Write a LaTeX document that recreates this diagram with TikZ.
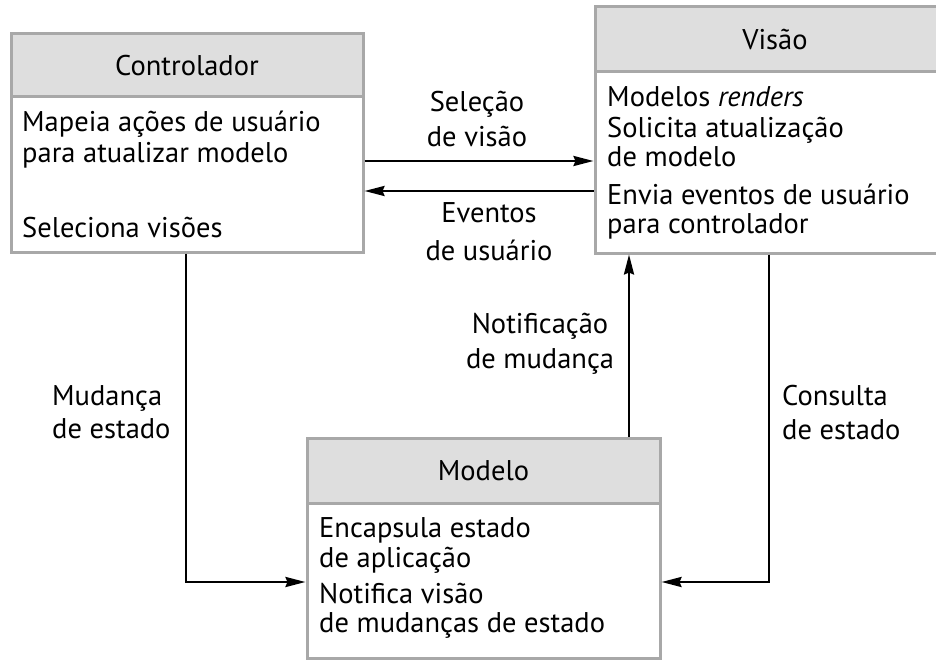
\documentclass[tikz,border=0pt]{standalone}
\usepackage{fontspec}
\setmainfont{PT Sans}
\usetikzlibrary{arrows.meta}
\definecolor{hdrfill}{HTML}{DEDEDE}
\definecolor{boxline}{HTML}{A8A8A8}
\begin{document}
\begin{tikzpicture}[x=1pt,y=-1pt,
  part/.style={draw=boxline, line width=3pt, inner sep=0pt, font=\fontsize{28.5}{32}\selectfont},
  hdr/.style={part, fill=hdrfill},
  bodyb/.style={part, fill=white},
  txt/.style={inner sep=0pt, anchor=base west, font=\fontsize{28.5}{32}\selectfont},
  lbl/.style={inner sep=0pt, anchor=base, font=\fontsize{28.5}{32}\selectfont},
  arr/.style={line width=2.5pt, -{Stealth[length=20pt,width=10pt,inset=2pt]}}]
\useasboundingbox (0,0) rectangle (936,660);
% Controlador
\node[hdr, minimum width=352pt, minimum height=63pt] (ch) at (187,65.5) {Controlador};
\node[bodyb, minimum width=352pt, minimum height=155pt] (cb) at (187,174.5) {};
\node[txt] (c1) at (22,132) {Mapeia ações de usuário};
\node[txt] (c2) at (22,163) {para atualizar modelo};
\node[txt] (c3) at (22,237) {Seleciona visões};
% Visao
\node[hdr, minimum width=360pt, minimum height=65pt] (vh) at (775,39.5) {Visão};
\node[bodyb, minimum width=360pt, minimum height=181pt] (vb) at (775,162.5) {};
\node[txt] (v1) at (607,107) {Modelos \textit{renders}};
\node[txt] (v2) at (607,138) {Solicita atualização};
\node[txt] (v3) at (607,167) {de modelo};
\node[txt] (v4) at (607,205) {Envia eventos de usuário};
\node[txt] (v5) at (607,234) {para controlador};
% Modelo
\node[hdr, minimum width=353pt, minimum height=65pt] (mh) at (483.5,470.5) {Modelo};
\node[bodyb, minimum width=353pt, minimum height=155pt] (mb) at (483.5,580.5) {};
\node[txt] (m1) at (319,537) {Encapsula estado};
\node[txt] (m2) at (319,567) {de aplicação};
\node[txt] (m3) at (319,603) {Notifica visão};
\node[txt] (m4) at (319,632) {de mudanças de estado};
% labels
\node[lbl] (l1) at (477,112) {Seleção};
\node[lbl] (l2) at (477,147) {de visão};
\node[lbl] (l3) at (489,223) {Eventos};
\node[lbl] (l4) at (489,260) {de usuário};
\node[lbl] (l5) at (540,333) {Notificação};
\node[lbl] (l6) at (540,368) {de mudança};
\node[txt] (l7) at (52,405) {Mudança};
\node[txt] (l8) at (52,438) {de estado};
\node[txt] (l9) at (782,405) {Consulta};
\node[txt] (l10) at (782,439) {de estado};
% connectors
\coordinate (y1) at (0,161);
\coordinate (y2) at (0,191);
\coordinate (bend1) at (186,582);
\coordinate (bend2) at (769,582);
\coordinate (nx) at (629,0);
\draw[arr] (cb.east |- y1) -- (vb.west |- y1);
\draw[arr] (vb.west |- y2) -- (cb.east |- y2);
\draw[arr] (cb.south -| bend1) -- (bend1) -- (mb.west |- bend1);
\draw[arr] (vb.south -| bend2) -- (bend2) -- (mb.east |- bend2);
\draw[arr] (mh.north -| nx) -- (vb.south -| nx);
\end{tikzpicture}
\end{document}
